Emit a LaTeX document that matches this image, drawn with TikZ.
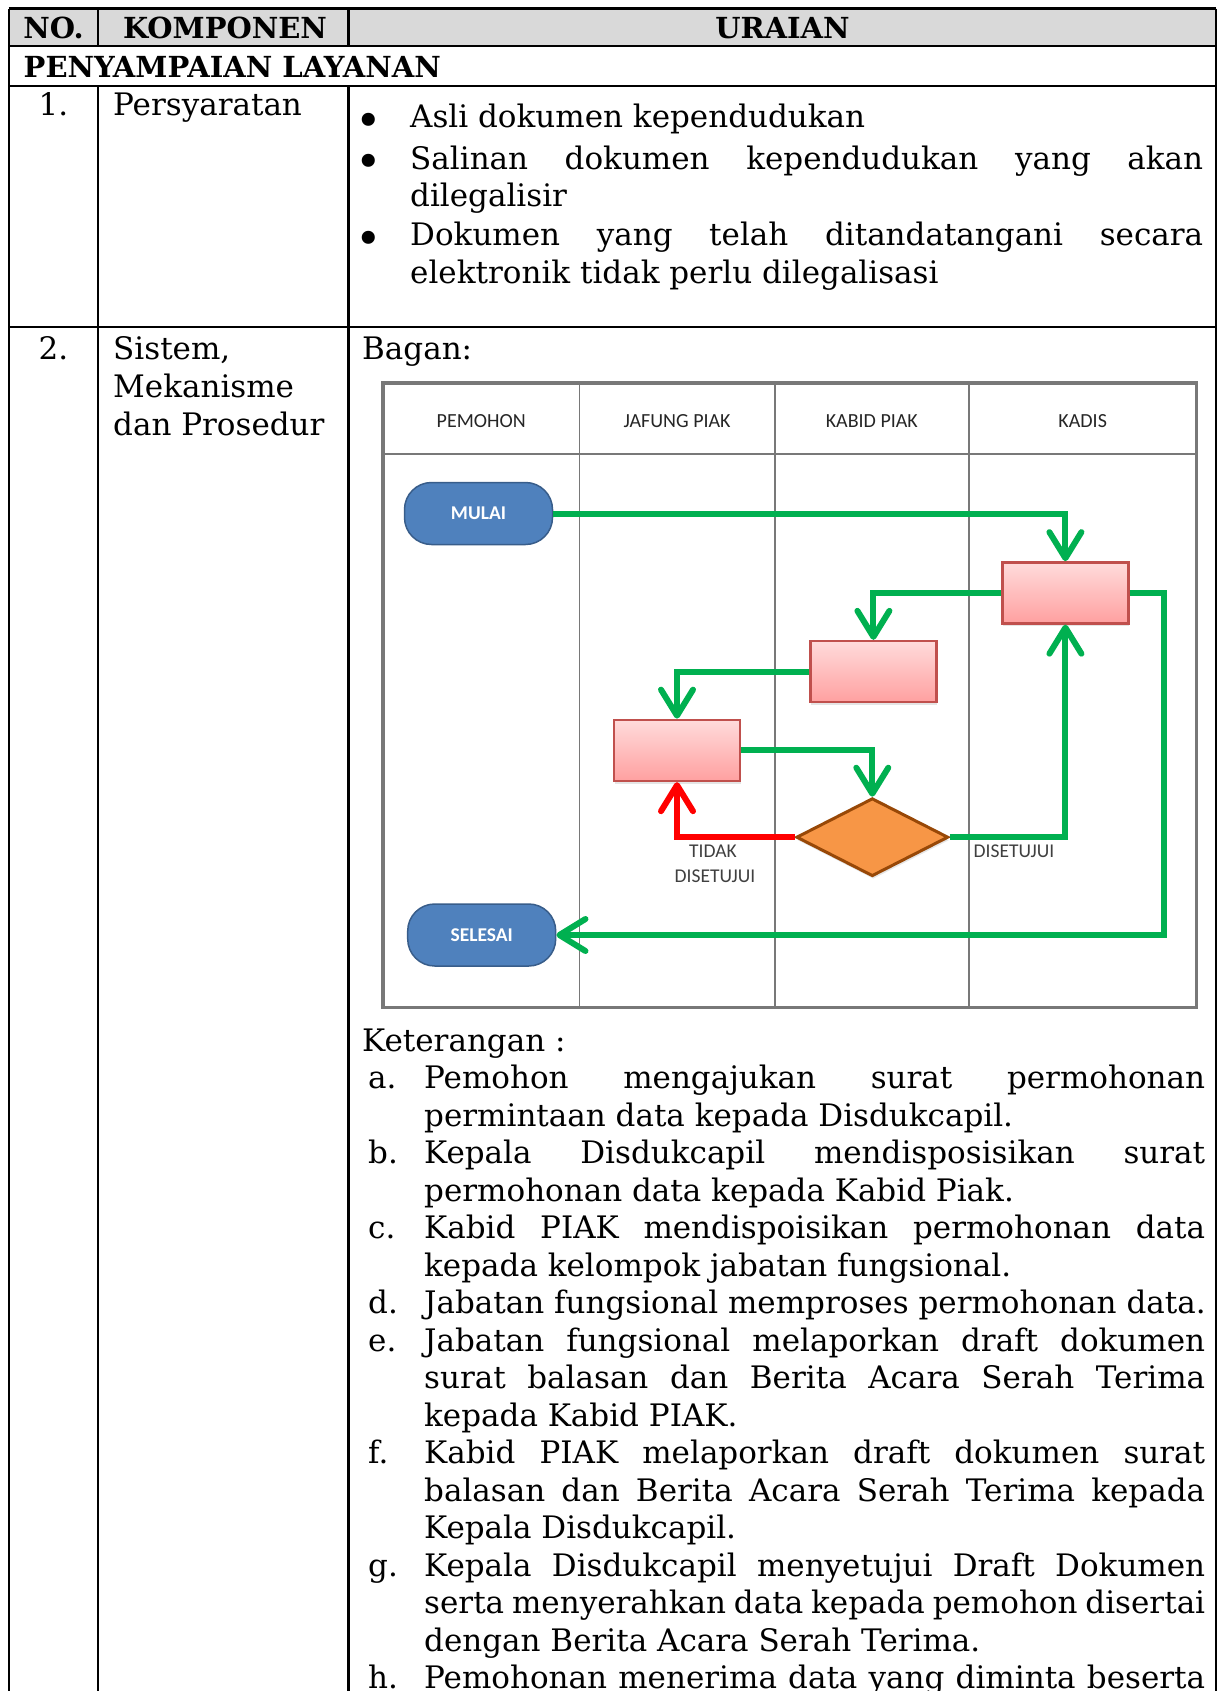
\documentclass[tikz,border=0pt]{standalone}
\usepackage{fontspec}
\usetikzlibrary{arrows.meta,shapes.geometric,shadows}
\newfontfamily\flowfont{Carlito}
\newfontfamily\serifface{DejaVu Serif}
\newcommand\bodyfont{\serifface\fontsize{31}{37.5}\selectfont}
\newcommand\boldbody{\serifface\bfseries\fontsize{29}{37.5}\selectfont}
\definecolor{headgray}{RGB}{217,217,217}
\definecolor{flowgreen}{RGB}{0,176,80}
\definecolor{flowred}{RGB}{255,0,0}
\definecolor{termfill}{RGB}{79,129,189}
\definecolor{termline}{RGB}{56,93,138}
\definecolor{boxline}{RGB}{192,80,77}
\definecolor{boxtop}{RGB}{255,219,219}
\definecolor{boxbot}{RGB}{255,160,160}
\definecolor{decfill}{RGB}{247,150,70}
\definecolor{decline}{RGB}{152,72,7}
\definecolor{lanegray}{RGB}{120,120,120}
\newcommand\listdot{\scalebox{1.45}{•}}
\tikzset{
  body/.style={font=\bodyfont, inner sep=0pt, anchor=base west},
  bodyc/.style={font=\bodyfont, inner sep=0pt, anchor=base},
  bulletmark/.style={font=\bodyfont, inner sep=0pt, anchor=base},
  headtxt/.style={font=\boldbody, inner sep=0pt, anchor=base},
  grid/.style={line width=2.2pt, black},
  lanetxt/.style={font=\flowfont\fontsize{20}{23}\selectfont, text=black!85, inner sep=0pt},
  terminal/.style={draw=termline, line width=1.5pt, fill=termfill, rounded corners=27pt,
    minimum width=148pt, minimum height=62pt, inner sep=0pt,
    font=\flowfont\bfseries\fontsize{19.5}{22}\selectfont, text=white},
  procbox/.style={draw=boxline, line width=2.5pt, top color=boxtop, bottom color=boxbot,
    minimum width=126pt, minimum height=61pt, inner sep=0pt,
    drop shadow={shadow xshift=1pt, shadow yshift=-3pt, opacity=0.2}},
  decision/.style={diamond, draw=decline, line width=3pt, fill=decfill,
    minimum width=152pt, minimum height=78pt, inner sep=0pt,
    drop shadow={shadow xshift=1pt, shadow yshift=-3pt, opacity=0.2}},
  barb/.tip={Straight Barb[length=26pt, width=32pt, round]},
  gflow/.style={draw=flowgreen, line width=6pt, -barb},
  rflow/.style={draw=flowred, line width=6pt, -barb},
  flowlbl/.style={font=\flowfont\fontsize{19.5}{22}\selectfont, text=black!75, inner sep=0pt}
}
\begin{document}
\begin{tikzpicture}[x=1pt, y=-1pt]
\useasboundingbox (0,0) rectangle (1217,1691);
\fill[white] (0,0) rectangle (1217,1691);
\clip (0,0) rectangle (1217,1691);

% table header band
\fill[headgray] (8.6,8.6) rectangle (1216,46.4);
\draw[grid] (8.6,8.6) -- (1216,8.6);
\draw[grid] (8.6,46.4) -- (1216,46.4);
\draw[grid] (8.6,86.3) -- (1216,86.3);
\draw[grid] (8.6,327) -- (1216,327);
\draw[grid] (8.6,8.6) -- (8.6,1700);
\draw[grid] (1216,8.6) -- (1216,1700);
\draw[grid] (98,8.6) -- (98,46.4);
\draw[grid] (348.5,8.6) -- (348.5,46.4);
\draw[grid] (98,86.3) -- (98,1700);
\draw[grid] (348.5,86.3) -- (348.5,1700);

\node[headtxt] (hno) at (53.5,38.5) {NO.};
\node[headtxt] (hkomp) at (225,38.5) {KOMPONEN};
\node[headtxt] (hurai) at (782.5,38.5) {URAIAN};
\node[font=\boldbody, inner sep=0pt, anchor=base west] (hsect) at (23.5,77.5) {PENYAMPAIAN LAYANAN};

% row 1
\node[bodyc] (no1) at (53.5,116) {1.};
\node[body] (komp1) at (113,116) {Persyaratan};
\node[bulletmark] (bul1) at (369,136.5) {\listdot};
\node[body] (req1) at (410,128) {Asli dokumen kependudukan};
\node[bulletmark] (bul2) at (369,177.5) {\listdot};
\node[body] (req2a) at (410,169) {\makebox[793pt][s]{Salinan dokumen kependudukan yang akan}};
\node[body] (req2b) at (410,206.5) {dilegalisir};
\node[bulletmark] (bul3) at (369,254) {\listdot};
\node[body] (req3a) at (410,245.5) {\makebox[793pt][s]{Dokumen yang telah ditandatangani secara}};
\node[body] (req3b) at (410,283.5) {elektronik tidak perlu dilegalisasi};

% row 2
\node[bodyc] (no2) at (53.5,359) {2.};
\node[body] (komp2a) at (113,359) {Sistem,};
\node[body] (komp2b) at (113,397) {Mekanisme};
\node[body] (komp2c) at (113,435) {dan Prosedur};
\node[body] (bagan) at (362,359) {Bagan:};

% swimlane frame
\draw[lanegray, line width=1.6pt] (579.5,383) -- (579.5,1007.7);
\draw[lanegray, line width=1.6pt] (774.7,383) -- (774.7,1007.7);
\draw[lanegray, line width=1.6pt] (968.9,383) -- (968.9,1007.7);
\draw[lanegray, line width=2pt] (383,454.2) -- (1196.5,454.2);
\draw[lanegray, line width=3.5pt] (383,383) rectangle (1196.5,1007.7);

\node[lanetxt] (lane1) at (481.2,421) {PEMOHON};
\node[lanetxt] (lane2) at (677.1,421) {JAFUNG PIAK};
\node[lanetxt] (lane3) at (871.8,421) {KABID PIAK};
\node[lanetxt] (lane4) at (1082.7,421) {KADIS};

% flow shapes
\node[terminal] (mulai) at (478.5,513.5) {MULAI};
\node[terminal] (selesai) at (481.7,935) {SELESAI};
\node[procbox] (kadis) at (1065.4,592.9) {};
\node[procbox] (kabid) at (873.4,671.6) {};
\node[procbox] (jafung) at (677,750.4) {};
\node[decision] (dec) at (872.3,837.2) {};

% connectors
\draw[gflow] (mulai.east) -| (kadis.north);
\draw[gflow] (kadis.west) -| (kabid.north);
\draw[gflow] (kabid.west) -| (jafung.north);
\draw[gflow] (jafung.east) -| (dec.north);
\draw[rflow] (dec.west) -| (jafung.south);
\draw[gflow] (dec.east) -| (kadis.south);
\draw[gflow] (kadis.east) -- ++(34,0) |- (selesai.east);

\node[flowlbl] (tidak1) at (713,851) {TIDAK};
\node[flowlbl] (tidak2) at (715,876) {DISETUJUI};
\node[flowlbl] (setuju) at (1014,851) {DISETUJUI};

% explanation list
\node[body] (ket) at (362,1051) {Keterangan :};
\node[body] (ia) at (368,1088.5) {a.};
\node[body] (ta1) at (424,1088.5) {\makebox[781pt][s]{Pemohon mengajukan surat permohonan}};
\node[body] (ta2) at (424,1126) {permintaan data kepada Disdukcapil.};
\node[body] (ib) at (368,1163.5) {b.};
\node[body] (tb1) at (424,1163.5) {\makebox[781pt][s]{Kepala Disdukcapil mendisposisikan surat}};
\node[body] (tb2) at (424,1201) {permohonan data kepada Kabid Piak.};
\node[body] (ic) at (368,1238.5) {c.};
\node[body] (tc1) at (424,1238.5) {\makebox[781pt][s]{Kabid PIAK mendispoisikan permohonan data}};
\node[body] (tc2) at (424,1276) {kepada kelompok jabatan fungsional.};
\node[body] (id) at (368,1313.5) {d.};
\node[body] (td1) at (424,1313.5) {Jabatan fungsional memproses permohonan data.};
\node[body] (ie) at (368,1351) {e.};
\node[body] (te1) at (424,1351) {\makebox[781pt][s]{Jabatan fungsional melaporkan draft dokumen}};
\node[body] (te2) at (424,1388.5) {\makebox[781pt][s]{surat balasan dan Berita Acara Serah Terima}};
\node[body] (te3) at (424,1426) {kepada Kabid PIAK.};
\node[body] (if) at (368,1463.5) {f.};
\node[body] (tf1) at (424,1463.5) {\makebox[781pt][s]{Kabid PIAK melaporkan draft dokumen surat}};
\node[body] (tf2) at (424,1501) {\makebox[781pt][s]{balasan dan Berita Acara Serah Terima kepada}};
\node[body] (tf3) at (424,1538.5) {Kepala Disdukcapil.};
\node[body] (ig) at (368,1576) {g.};
\node[body] (tg1) at (424,1576) {\makebox[781pt][s]{Kepala Disdukcapil menyetujui Draft Dokumen}};
\node[body] (tg2) at (424,1613.5) {\makebox[781pt][s]{serta menyerahkan data kepada pemohon disertai}};
\node[body] (tg3) at (424,1651) {dengan Berita Acara Serah Terima.};
\node[body] (ih) at (368,1688.5) {h.};
\node[body] (th1) at (424,1688.5) {\makebox[781pt][s]{Pemohonan menerima data yang diminta beserta}};
\end{tikzpicture}
\end{document}
